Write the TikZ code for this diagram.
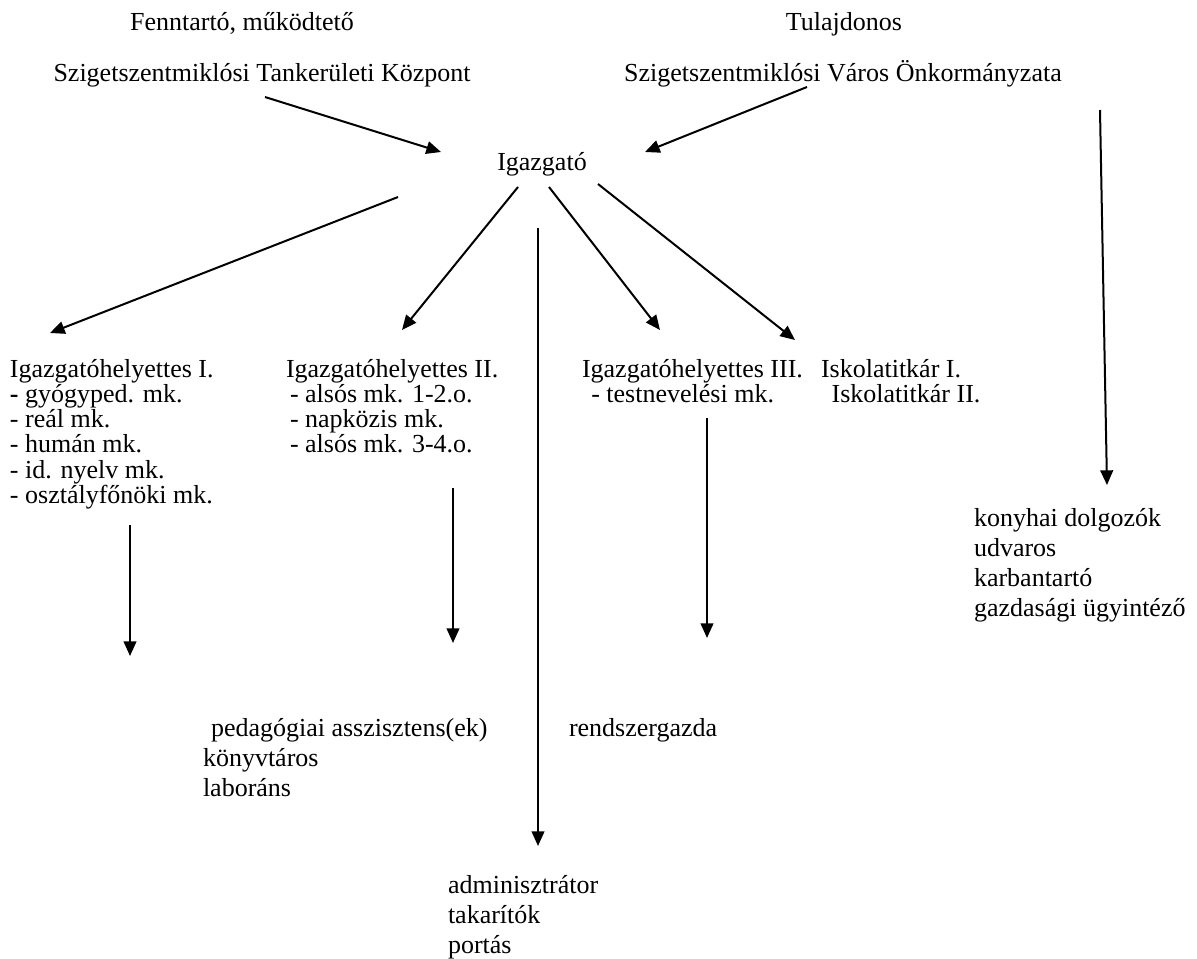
\documentclass[tikz,border=0pt]{standalone}
\usepackage{fontspec}
\setmainfont{Liberation Serif}
\usetikzlibrary{arrows.meta,positioning}
\newcommand{\stafflist}[1]{\begin{tabular}[t]{@{}l@{}}#1\end{tabular}}

\begin{document}
\begin{tikzpicture}[x=0.75pt,y=0.75pt,yscale=-1,xscale=1,
  txt/.style={inner sep=0pt,outer sep=0pt,font=\fontsize{19.5}{18}\selectfont},
  lowtxt/.style={txt,font=\fontsize{19.5}{22.5}\selectfont},
  arr/.style={line width=1.5pt,-{Triangle[length=11pt,width=9.5pt]}}]
\useasboundingbox (0,0) rectangle (1197,958);

%Text: top left
\node[txt,anchor=base] (fenn) at (242,30) {Fenntartó, működtető};
\node[txt,anchor=base] (tke) at (262,81) {Szigetszentmiklósi Tankerületi Központ};
%Text: top right
\node[txt,anchor=base] (tul) at (844,30) {Tulajdonos};
\node[txt,anchor=base] (onk) at (843,81) {Szigetszentmiklósi Város Önkormányzata};
%Text: centre
\node[txt,anchor=base] (igaz) at (542,170) {Igazgató};

%Text: deputies and secretaries
\node[txt,anchor=base west] (helyI) at (10,377) {\stafflist{Igazgatóhelyettes I.\\\textbf{-} gyógyped. mk.\\- reál mk.\\- humán mk.\\- id. nyelv mk.\\- osztályfőnöki mk.}};
\node[txt,anchor=base west] (helyII) at (286,377) {\stafflist{Igazgatóhelyettes II.\\\hspace*{3pt}- alsós mk. 1-2.o.\\\hspace*{3pt}- napközis mk.\\\hspace*{3pt}- alsós mk. 3-4.o.}};
\node[txt,anchor=base west] (helyIII) at (582,377) {\stafflist{Igazgatóhelyettes III.\\\hspace*{7pt}- testnevelési mk.}};
\node[txt,anchor=base west] (titkar) at (821,377) {\stafflist{Iskolatitkár I.\\\hspace*{8pt}Iskolatitkár II.}};

%Text: staff
\node[lowtxt,anchor=base west] (konyha) at (974,526) {\stafflist{konyhai dolgozók\\udvaros\\karbantartó\\gazdasági ügyintéző}};
\node[lowtxt,anchor=base west] (pedasz) at (203,736) {\stafflist{\hspace*{6pt}pedagógiai asszisztens(ek)\\könyvtáros\\laboráns}};
\node[lowtxt,anchor=base west] (rendszer) at (569,736) {rendszergazda};
\node[lowtxt,anchor=base west] (admin) at (448,893) {\stafflist{adminisztrátor\\takarítók\\portás}};

%Arrow ends
\coordinate (tke-out) at (265,97);
\coordinate (igaz-inL) at (441,152);
\coordinate (onk-out) at (807,87);
\coordinate (igaz-inR) at (645,152);
\coordinate (igaz-outI) at (398,197);
\coordinate (helyI-in) at (50,333);
\coordinate (igaz-outII) at (518,187);
\coordinate (helyII-in) at (402,330);
\coordinate (igaz-outIII) at (549,187);
\coordinate (helyIII-in) at (660,330);
\coordinate (igaz-outT) at (598,184);
\coordinate (titkar-in) at (795,340);
\coordinate (igaz-down) at (538,228);
\coordinate (admin-in) at (538,846);
\coordinate (onk-down) at (1100,110);
\coordinate (konyha-in) at (1107,485);
\coordinate (helyI-out) at (130,525);
\coordinate (helyI-end) at (130,656);
\coordinate (helyII-out) at (453,488);
\coordinate (pedasz-in) at (453,643);
\coordinate (helyIII-out) at (707,418);
\coordinate (rendszer-in) at (707,638);

%Straight Lines
\draw[arr] (tke-out) -- (igaz-inL);
\draw[arr] (onk-out) -- (igaz-inR);
\draw[arr] (igaz-outI) -- (helyI-in);
\draw[arr] (igaz-outII) -- (helyII-in);
\draw[arr] (igaz-outIII) -- (helyIII-in);
\draw[arr] (igaz-outT) -- (titkar-in);
\draw[arr] (igaz-down) -- (admin-in);
\draw[arr] (onk-down) -- (konyha-in);
\draw[arr] (helyI-out) -- (helyI-end);
\draw[arr] (helyII-out) -- (pedasz-in);
\draw[arr] (helyIII-out) -- (rendszer-in);

\end{tikzpicture}
\end{document}
